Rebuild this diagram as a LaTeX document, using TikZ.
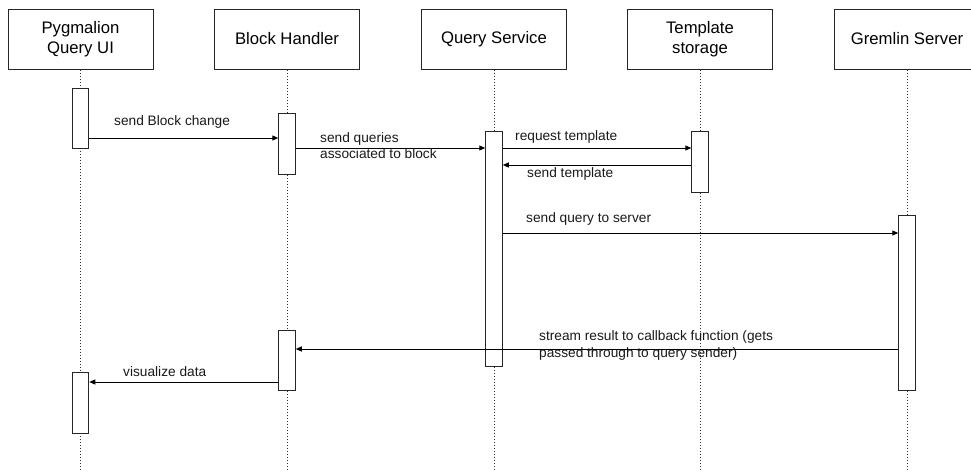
\documentclass[tikz,border=0pt]{standalone}
\usepackage{fontspec}
\setmainfont{Liberation Sans}
\usetikzlibrary{arrows.meta}
\tikzset{
  head/.style={draw=black!85, line width=1pt, fill=white, minimum width=145pt, minimum height=60pt,
    align=center, inner sep=0pt, font=\fontsize{16.7}{20.5}\selectfont},
  act/.style={draw=black!85, line width=1pt, fill=white, minimum width=16.5pt, inner sep=0pt},
  life/.style={draw=black!80, line width=0.9pt, dash pattern=on 1pt off 2pt},
  msg/.style={draw=black, line width=1pt, -{Triangle[length=6pt,width=5pt]}},
  lbl/.style={anchor=west, align=left, inner sep=0pt, text=black!90,
    font=\fontsize{13.7}{16.5}\selectfont}
}
\begin{document}
\begin{tikzpicture}[x=1pt, y=-1pt]
\useasboundingbox (0,0) rectangle (971,471);
\clip (0,0) rectangle (971,471);

% participants
\node[head] (h1) at (80.5,39) {Pygmalion\\Query UI};
\node[head] (h2) at (287,39) {Block Handler};
\node[head] (h3) at (494,39) {Query Service};
\node[head] (h4) at (700,39) {Template\\storage};
\node[head] (h5) at (907,39) {Gremlin Server};

% lifelines
\foreach \i in {1,...,5} {
  \coordinate (e\i) at (h\i.south |- 0,471);
  \draw[life] (h\i.south) -- (e\i);
}

% activation bars
\node[act, minimum height=60pt]  (a1) at (80.5,118)  {};
\node[act, minimum height=61pt]  (a2) at (287,143.5) {};
\node[act, minimum height=235pt] (a3) at (494,248.5) {};
\node[act, minimum height=61pt]  (a4) at (700,161.5) {};
\node[act, minimum height=175pt] (a5) at (907,302.5) {};
\node[act, minimum height=60pt]  (a6) at (287,360)   {};
\node[act, minimum height=61pt]  (a7) at (80.5,402.5) {};

% message levels
\coordinate (y1) at (0,138);
\coordinate (y2) at (0,148);
\coordinate (y3) at (0,148);
\coordinate (y4) at (0,165);
\coordinate (y5) at (0,233);
\coordinate (y6) at (0,349);
\coordinate (y7) at (0,382);

% messages
\draw[msg] (a1.east |- y1) -- (a2.west |- y1);
\draw[msg] (a2.east |- y2) -- (a3.west |- y2);
\draw[msg] (a3.east |- y3) -- (a4.west |- y3);
\draw[msg] (a4.west |- y4) -- (a3.east |- y4);
\draw[msg] (a3.east |- y5) -- (a5.west |- y5);
\draw[msg] (a5.west |- y6) -- (a6.east |- y6);
\draw[msg] (a6.west |- y7) -- (a7.east |- y7);

% message labels
\node[lbl] (l1) at (114,122) {send Block change};
\node[lbl] (l2) at (320,145.5) {send queries\\associated to block};
\node[lbl] (l3) at (515,136.5) {request template};
\node[lbl] (l4) at (527,173.5) {send template};
\node[lbl] (l5) at (526,218.5) {send query to server};
\node[lbl] (l6) at (539,345.5) {stream result to callback function (gets\\passed through to query sender)};
\node[lbl] (l7) at (123,371.5) {visualize data};
\end{tikzpicture}
\end{document}
